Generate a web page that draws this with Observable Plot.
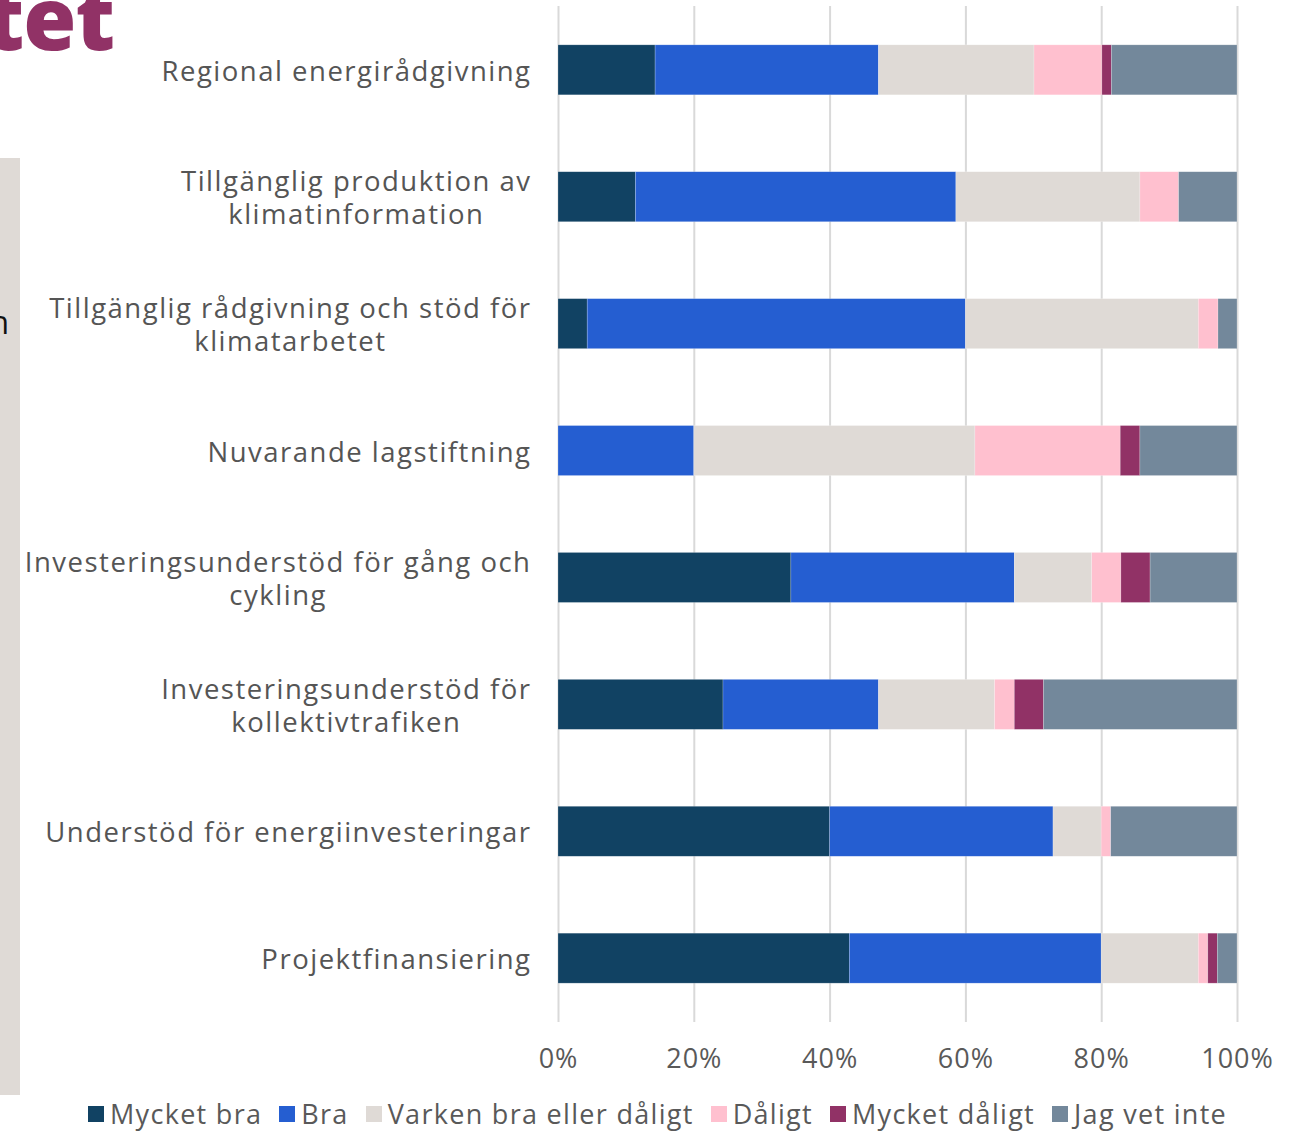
<!DOCTYPE html>
<html>
<head>
<meta charset="utf-8">
<script src="https://cdn.jsdelivr.net/npm/d3@7"></script>
<script src="https://cdn.jsdelivr.net/npm/@observablehq/plot@0.6"></script>
<style>
  html, body { margin: 0; padding: 0; background: #fff; }
  body { width: 1294px; height: 1131px; position: relative; overflow: hidden; font-family: "Open Sans", sans-serif; }
  #frag-title { position: absolute; right: calc(1294px - 114px); top: -26px; font: 800 86px "Open Sans", sans-serif; color: #913266; white-space: nowrap; line-height: 1; letter-spacing: -1px; }
  #panel { position: absolute; left: 0; top: 158px; width: 20px; height: 937px; background: #dfdad6; }
  #frag-n { position: absolute; right: calc(1294px - 9px); top: 306px; font: 400 32px "Open Sans", sans-serif; color: #111; line-height: 1; }
  #chart { position: absolute; left: 0; top: 0; }
  #chart svg { background: transparent !important; overflow: visible; }
  #chart g[aria-label="y-axis tick label"] { letter-spacing: 1.5px; }
  #chart g[aria-label="x-axis tick label"] { letter-spacing: 1px; }
  #legend { position: absolute; left: 88px; top: 1095px; display: flex; gap: 17px; align-items: center; font: 400 27px "Open Sans", sans-serif; letter-spacing: 1.3px; color: #595959; white-space: nowrap; }
  .item { display: flex; align-items: center; gap: 6px; }
  .sw { width: 16px; height: 16px; display: inline-block; }
</style>
</head>
<body>
<div id="frag-title">tet</div>
<div id="panel"></div>
<div id="frag-n">n</div>
<div id="chart"></div>
<div id="legend"></div>
<script>
// ---- Data ----
const categories = [
  "Regional energirådgivning",
  "Tillgänglig produktion av klimatinformation",
  "Tillgänglig rådgivning och stöd för klimatarbetet",
  "Nuvarande lagstiftning",
  "Investeringsunderstöd för gång och cykling",
  "Investeringsunderstöd för kollektivtrafiken",
  "Understöd för energiinvesteringar",
  "Projektfinansiering"
];
const categoryLabels = [
  "Regional energirådgivning",
  "Tillgänglig produktion av\nklimatinformation",
  "Tillgänglig rådgivning och stöd för\nklimatarbetet",
  "Nuvarande lagstiftning",
  "Investeringsunderstöd för gång och\ncykling",
  "Investeringsunderstöd för\nkollektivtrafiken",
  "Understöd för energiinvesteringar",
  "Projektfinansiering"
];
const seriesNames = ["Mycket bra", "Bra", "Varken bra eller dåligt", "Dåligt", "Mycket dåligt", "Jag vet inte"];
const seriesColors = ["#114263", "#255ed1", "#dfdad6", "#ffc0cf", "#913266", "#73889b"];

const mycketBra    = [14.3, 11.4,  4.3,  0.0, 34.3, 24.3, 40.0, 42.9];
const bra          = [32.9, 47.2, 55.7, 20.0, 32.9, 22.9, 32.9, 37.1];
const varken       = [22.9, 27.1, 34.3, 41.4, 11.4, 17.1,  7.1, 14.3];
const daligt       = [10.0,  5.7,  2.9, 21.4,  4.3,  2.9,  1.4,  1.4];
const mycketDaligt = [ 1.4,  0.0,  0.0,  2.9,  4.3,  4.3,  0.0,  1.4];
const vetInte      = [18.5,  8.6,  2.8, 14.3, 12.8, 28.5, 18.6,  2.9];

const xTicks = [0, 20, 40, 60, 80, 100];
const xTickLabels = ["0%", "20%", "40%", "60%", "80%", "100%"];

// ---- Build table ----
const seriesValues = [mycketBra, bra, varken, daligt, mycketDaligt, vetInte];
const rows = [];
categories.forEach((c, i) => {
  seriesNames.forEach((s, j) => {
    rows.push({category: c, series: s, value: seriesValues[j][i]});
  });
});
const labelOf = new Map(categories.map((c, i) => [c, categoryLabels[i]]));

const chart = Plot.plot({
  width: 1294,
  height: 1094,
  marginLeft: 558,
  marginRight: 57,
  marginTop: 6,
  marginBottom: 72,
  style: {fontFamily: "Open Sans, sans-serif", fontSize: "26px", color: "#555", background: "transparent"},
  x: {domain: [0, 100], ticks: xTicks, tickFormat: d => xTickLabels[xTicks.indexOf(d)], label: null},
  y: {domain: categories, paddingInner: 0.606, paddingOuter: 0.306, round: false, label: null},
  color: {domain: seriesNames, range: seriesColors},
  marks: [
    Plot.gridX(xTicks, {stroke: "#d9d9d9", strokeOpacity: 1, strokeWidth: 2}),
    Plot.barX(rows, Plot.stackX({
      x: "value", y: "category", fill: "series", order: seriesNames,
      stroke: "#ffffff", strokeWidth: 0.6, strokeOpacity: 0.35, inset: 0
    })),
    Plot.axisX({ticks: xTicks, tickSize: 0, tickPadding: 26, tickFormat: d => xTickLabels[xTicks.indexOf(d)], fill: "#595959", fontSize: 27, label: null}),
    Plot.axisY({tickSize: 0, tickPadding: 27, tickFormat: d => labelOf.get(d), fill: "#555", fontSize: 27.5, lineHeight: 1.2, label: null})
  ]
});
document.getElementById("chart").append(chart);

// Center multi-line category labels (lines centered on each other, block right-aligned)
chart.querySelectorAll('g[aria-label="y-axis tick label"] text').forEach(t => {
  const spans = t.querySelectorAll("tspan");
  if (spans.length > 1) {
    const widths = Array.from(spans, s => s.getComputedTextLength());
    const maxW = Math.max(...widths);
    t.setAttribute("text-anchor", "middle");
    spans.forEach(s => {
      const x0 = +(s.getAttribute("x") || 0);
      s.setAttribute("x", x0 - maxW / 2);
    });
  }
});

// Legend
const legend = document.getElementById("legend");
seriesNames.forEach((s, i) => {
  const item = document.createElement("span");
  item.className = "item";
  const sw = document.createElement("span");
  sw.className = "sw";
  sw.style.background = seriesColors[i];
  const lab = document.createElement("span");
  lab.textContent = s;
  item.append(sw, lab);
  legend.append(item);
});
</script>
</body>
</html>
